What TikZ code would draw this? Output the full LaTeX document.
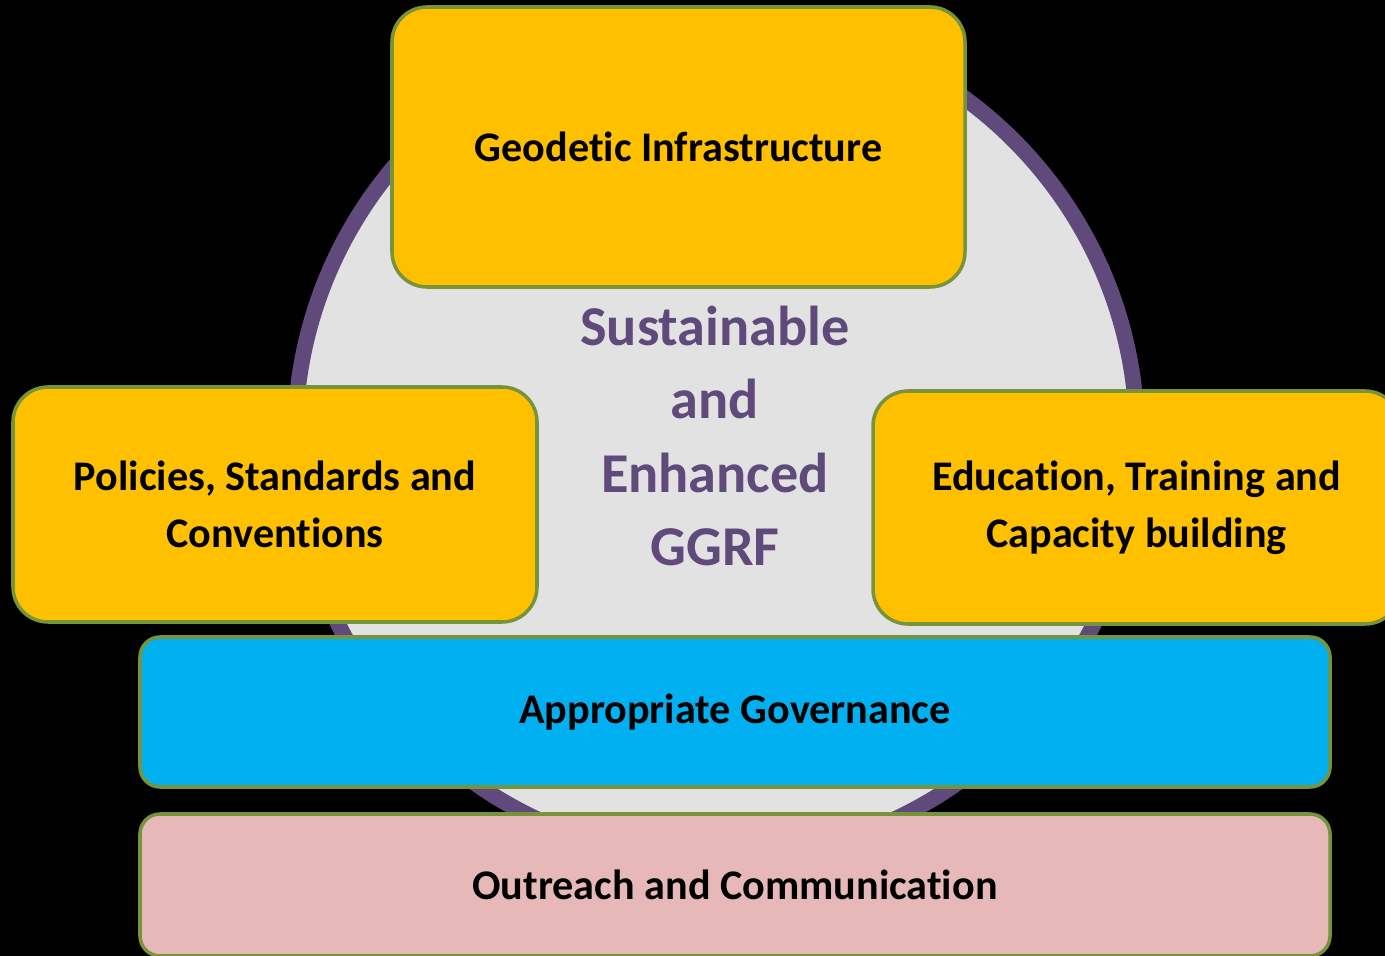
\documentclass[tikz,border=0pt]{standalone}
\usepackage{fontspec}
\setmainfont{Carlito}[Ligatures=NoCommon]
\usetikzlibrary{positioning}

\definecolor{ringpurple}{HTML}{604A7B}
\definecolor{ringfill}{HTML}{E2E2E2}
\definecolor{boxgreen}{HTML}{77933C}
\definecolor{boxyellow}{HTML}{FFC000}
\definecolor{barblue}{HTML}{00B0F0}
\definecolor{barpink}{HTML}{E6B9B8}

\begin{document}
\begin{tikzpicture}[%
		ring/.style={
			circle,
			draw=ringpurple,
			fill=ringfill,
			line width=4.5pt,
			minimum size=8.42cm,
			inner sep=0pt
		},
		pillar/.style={
			rectangle,
			rounded corners=3.5mm,
			draw=boxgreen,
			line width=1pt,
			fill=boxyellow,
			align=center,
			inner sep=0pt,
			font=\fontsize{12}{16.2}\selectfont\bfseries
		},
		bar/.style={
			pillar,
			rounded corners=2mm,
			minimum width=11.9cm
		},
		centre/.style={
			align=center,
			text=ringpurple,
			font=\fontsize{16}{20.8}\selectfont\bfseries
		}]

		% BACKGROUND
		\fill[black] (0,0) rectangle (13.85,-9.56);
		\useasboundingbox (0,0) rectangle (13.85,-9.56);
		\clip (0,0) rectangle (13.85,-9.56);

		% RING
		\node (ring) [ring] at (7.16,-4.38) {};

		% PILLARS
		\node (geodetic) [pillar, minimum width=5.73cm, minimum height=2.80cm] at (6.785,-1.47) {Geodetic Infrastructure};
		\node (policies) [pillar, minimum width=5.24cm, minimum height=2.35cm] at (2.75,-5.045) {Policies, Standards and\\Conventions};
		\node (education) [pillar, minimum width=5.27cm, minimum height=2.33cm] at (11.365,-5.075) {Education, Training and\\Capacity building};

		% BARS
		\node (governance) [bar, fill=barblue, minimum height=1.50cm] at (7.35,-7.12) {Appropriate Governance};
		\node (outreach) [bar, fill=barpink, minimum height=1.42cm] at (7.35,-8.85) {Outreach and Communication};

		% CENTRE TEXT
		\node (ggrf) [centre] at (7.15,-4.36) {Sustainable\\and\\Enhanced\\GGRF};
\end{tikzpicture}
\end{document}
